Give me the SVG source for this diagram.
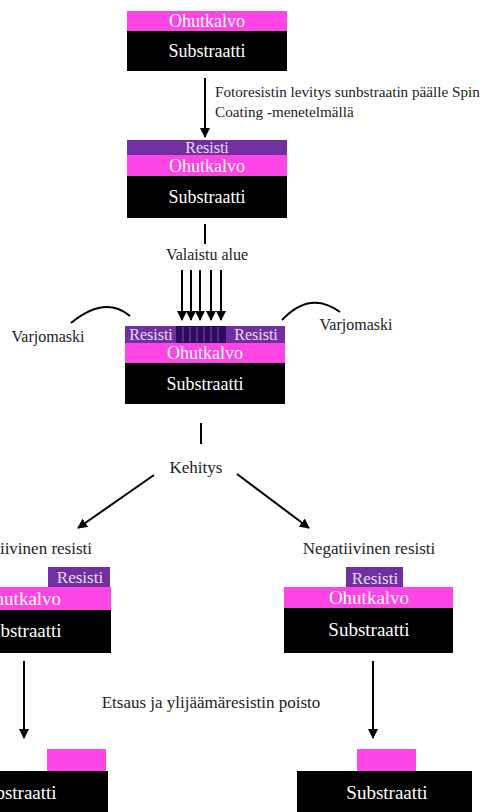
<svg xmlns="http://www.w3.org/2000/svg" width="491" height="812" viewBox="0 0 491 812">
<style>
.t{font-family:"Liberation Serif","Times New Roman",serif;fill:#222;font-size:17px}
.s{font-size:15.2px}
.m{font-size:16px}
.w{font-family:"Liberation Serif","Times New Roman",serif;fill:#fff;font-size:18px;text-anchor:middle}
.b{font-size:19px}
.r{font-family:"Liberation Serif","Times New Roman",serif;fill:#e8dcf5;font-size:16px;text-anchor:middle}
.r2{font-size:17px}
.pk{fill:#fd45e6}
.pu{fill:#7030a0}
.bk{fill:#000}
.ln{stroke:#000;stroke-width:2;fill:none}
</style>
<defs>
<marker id="ah" viewBox="0 0 10 10" refX="9" refY="5" markerWidth="5" markerHeight="5" orient="auto" markerUnits="strokeWidth">
<path d="M0,0 L10,5 L0,10 z" fill="#000"/>
</marker>
</defs>
<rect width="491" height="812" fill="#fff"/>
<g id="stack1">
<rect class="pk" x="127" y="11" width="160" height="20"/>
<rect class="bk" x="127" y="31" width="160" height="40"/>
<text class="w" x="207" y="27">Ohutkalvo</text>
<text class="w" x="207" y="57">Substraatti</text>
</g>
<g id="stack2">
<rect class="pu" x="127" y="140" width="160" height="15"/>
<rect class="pk" x="127" y="155" width="160" height="21"/>
<rect class="bk" x="127" y="176" width="160" height="42"/>
<text class="r" x="207" y="153">Resisti</text>
<text class="w" x="207" y="172">Ohutkalvo</text>
<text class="w" x="207" y="203">Substraatti</text>
</g>
<g id="stack3">
<rect class="pu" x="125" y="326" width="160" height="17"/>
<rect fill="#2d0b5e" x="176" y="326" width="50" height="17"/>
<g stroke="#6a4aa0" stroke-width="1.2">
<line x1="183" y1="327" x2="183" y2="342"/>
<line x1="190" y1="327" x2="190" y2="342"/>
<line x1="197" y1="327" x2="197" y2="342"/>
<line x1="204" y1="327" x2="204" y2="342"/>
<line x1="211" y1="327" x2="211" y2="342"/>
<line x1="218" y1="327" x2="218" y2="342"/>
</g>
<rect class="pk" x="125" y="343" width="160" height="20"/>
<rect class="bk" x="125" y="363" width="160" height="41"/>
<text class="r" x="151" y="340">Resisti</text>
<text class="r" x="256" y="340">Resisti</text>
<text class="w" x="205" y="359">Ohutkalvo</text>
<text class="w" x="205" y="390">Substraatti</text>
</g>
<g id="stack-pos">
<rect class="pu" x="48" y="567" width="62" height="20"/>
<rect class="pk" x="-58" y="587" width="169" height="23"/>
<rect class="bk" x="-58" y="610" width="169" height="43"/>
<text class="r r2" x="80" y="583">Resisti</text>
<text class="w b" x="21" y="605">Ohutkalvo</text>
<text class="w b" x="21" y="637">Substraatti</text>
</g>
<g id="stack-neg">
<rect class="pu" x="346" y="567" width="57" height="20"/>
<rect class="pk" x="284" y="587" width="169" height="21"/>
<rect class="bk" x="284" y="608" width="169" height="45"/>
<text class="r r2" x="375" y="584">Resisti</text>
<text class="w b" x="369" y="604">Ohutkalvo</text>
<text class="w b" x="369" y="636">Substraatti</text>
</g>
<g id="result-pos">
<rect class="pk" x="47" y="749" width="59" height="22"/>
<rect class="bk" x="-70" y="771" width="178" height="45"/>
<text class="w b" x="16" y="799">Substraatti</text>
</g>
<g id="result-neg">
<rect class="pk" x="357" y="749" width="59" height="22"/>
<rect class="bk" x="297" y="771" width="175" height="45"/>
<text class="w b" x="387" y="799">Substraatti</text>
</g>
<g id="labels">
<text class="t s" x="215" y="97">Fotoresistin levitys sunbstraatin päälle Spin</text>
<text class="t s" x="215" y="117">Coating -menetelmällä</text>
<text class="t m" x="207" y="260" text-anchor="middle">Valaistu alue</text>
<text class="t m" x="48" y="342" text-anchor="middle">Varjomaski</text>
<text class="t m" x="356" y="330" text-anchor="middle">Varjomaski</text>
<text class="t" x="196" y="473" text-anchor="middle">Kehitys</text>
<text class="t" x="92" y="554" text-anchor="end">Positiivinen resisti</text>
<text class="t" x="369" y="554" text-anchor="middle">Negatiivinen resisti</text>
<text class="t" x="211" y="708" text-anchor="middle">Etsaus ja ylijäämäresistin poisto</text>
</g>
<g id="connectors">
<line class="ln" x1="205" y1="78" x2="205" y2="137" marker-end="url(#ah)"/>
<line class="ln" x1="205" y1="224" x2="205" y2="244"/>
<line class="ln" x1="182" y1="270" x2="182" y2="320" marker-end="url(#ah)"/>
<line class="ln" x1="191" y1="270" x2="191" y2="320" marker-end="url(#ah)"/>
<line class="ln" x1="200" y1="270" x2="200" y2="320" marker-end="url(#ah)"/>
<line class="ln" x1="211" y1="270" x2="211" y2="320" marker-end="url(#ah)"/>
<line class="ln" x1="221" y1="270" x2="221" y2="320" marker-end="url(#ah)"/>
<path class="ln" d="M71,323 Q105,295 130,316"/>
<path class="ln" d="M282,320 Q310,290 340,312"/>
<line class="ln" x1="201" y1="423" x2="201" y2="444"/>
<line class="ln" x1="154" y1="475" x2="78" y2="528" marker-end="url(#ah)"/>
<line class="ln" x1="237" y1="474" x2="309" y2="528" marker-end="url(#ah)"/>
<line class="ln" x1="24" y1="661" x2="24" y2="738" marker-end="url(#ah)"/>
<line class="ln" x1="373" y1="661" x2="373" y2="738" marker-end="url(#ah)"/>
</g>
</svg>
